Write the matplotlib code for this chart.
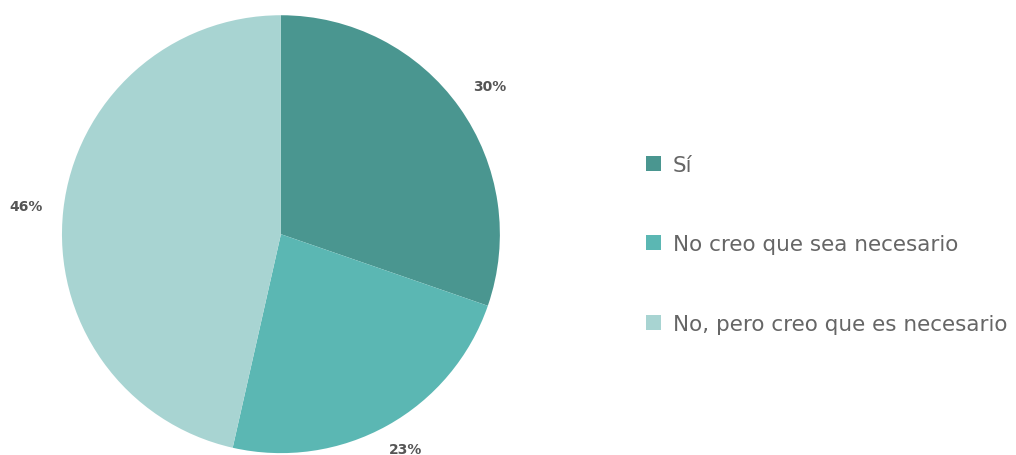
import matplotlib.pyplot as plt

# Survey answers and their shares (%)
answers = ["Sí", "No creo que sea necesario", "No, pero creo que es necesario"]
shares = [30, 23, 46]
colors = ["#4a9690", "#5bb7b3", "#a8d4d2"]

plt.rcParams['font.family'] = ['DejaVu Sans']

fig = plt.figure(figsize=(10.16, 4.56), dpi=100)
ax = fig.add_axes([0.061, 0.004, 0.431, 0.9605])

wedges, texts, autotexts = ax.pie(
    shares, colors=colors, startangle=90, counterclock=False,
    autopct='%.0f%%', pctdistance=1.17,
    wedgeprops=dict(linewidth=0),
    textprops=dict(fontsize=10, fontweight='bold', color='#555555'),
)
# keep the bottom label inside the figure
x, y = autotexts[1].get_position()
autotexts[1].set_position((x, y + 0.04))
for t in autotexts:
    t.set_clip_on(False)
ax.set_xlim(-1, 1)
ax.set_ylim(-1, 1)
ax.set_aspect('equal')
ax.axis('off')

leg = fig.legend(wedges, answers, loc='upper left', bbox_to_anchor=(0.627, 0.677),
                 frameon=False, fontsize=15.5, handlelength=0.7, handleheight=0.7,
                 handletextpad=0.55, labelspacing=2.76, borderaxespad=0)
for t in leg.get_texts():
    t.set_color('#666666')

fig.savefig("out.png", dpi=100)
